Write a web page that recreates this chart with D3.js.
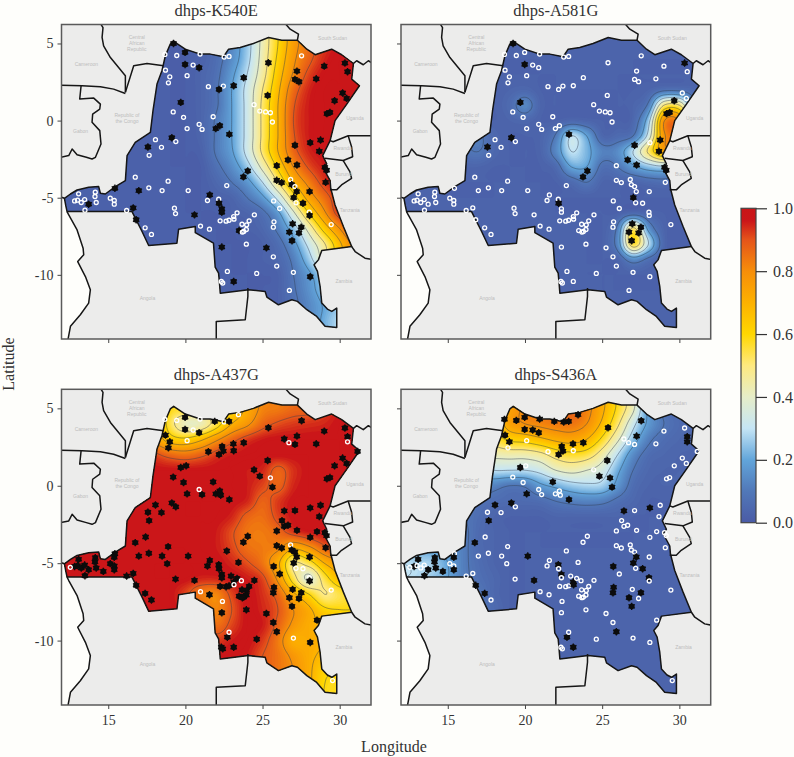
<!DOCTYPE html>
<html>
<head>
<meta charset="utf-8">
<script src="https://cdn.jsdelivr.net/npm/d3@7"></script>
<style>
  html, body { margin: 0; padding: 0; background: #fefefb; }
  svg { display: block; }
  text { font-family: "Liberation Serif", serif; fill: #333; }
</style>
</head>
<body>
<div id="chart"></div>
<script>
// sampling sites [lon, lat], ids are 1-based position in this list
const sites = [
  [19.23,5.00],[19.98,4.42],[18.67,4.29],[19.44,4.22],[20.95,4.31],[22.51,4.12],[22.83,4.16],[25.38,3.75],[27.53,4.20],[19.98,3.64],
  [20.50,3.60],[20.89,3.43],[18.71,3.27],[18.99,2.84],[18.90,2.45],[20.11,2.91],[21.49,2.20],[22.46,2.24],[23.13,2.26],[23.78,2.78],
  [22.18,2.02],[27.23,3.21],[27.10,2.67],[27.36,2.52],[28.48,2.71],[29.00,3.53],[30.34,3.73],[30.51,3.17],[25.33,1.63],[30.19,1.79],
  [30.45,1.44],[29.67,1.29],[19.70,1.18],[19.21,0.56],[19.88,0.21],[21.80,0.25],[24.45,1.03],[24.82,0.62],[25.20,0.56],[25.51,0.51],
  [25.64,-0.09],[29.17,0.45],[29.37,0.53],[20.89,-0.24],[21.08,-0.57],[20.11,-0.52],[21.97,-0.52],[22.23,-0.33],[22.85,-0.89],[19.12,-1.11],
  [18.06,-1.24],[19.38,-1.36],[17.57,-1.71],[18.45,-1.73],[17.65,-2.25],[27.10,-1.60],[28.09,-1.43],[28.76,-1.26],[28.68,-1.99],[26.65,-2.55],
  [27.23,-2.88],[25.92,-2.92],[29.04,-3.03],[29.15,-3.22],[24.04,-3.26],[23.76,-3.65],[16.75,-3.67],[18.88,-3.93],[25.92,-3.87],[26.24,-4.02],
  [26.82,-3.82],[26.89,-4.15],[27.10,-4.28],[29.09,-4.00],[28.05,-4.60],[27.21,-4.60],[27.02,-4.99],[22.68,-4.21],[17.63,-4.36],[15.43,-4.39],
  [16.98,-4.54],[18.49,-4.54],[20.18,-4.54],[14.16,-4.64],[14.14,-4.92],[13.08,-4.75],[12.82,-5.21],[13.01,-5.16],[13.25,-5.31],[13.47,-5.12],
  [13.73,-5.42],[14.22,-5.31],[15.13,-5.03],[15.39,-5.18],[15.39,-5.42],[21.58,-4.82],[21.43,-5.18],[22.16,-5.10],[22.18,-5.36],[25.72,-5.21],
  [26.11,-5.70],[27.17,-5.33],[27.62,-5.36],[28.03,-5.94],[28.05,-6.15],[16.62,-5.66],[16.19,-5.83],[13.49,-5.81],[19.29,-5.68],[19.36,-6.03],
  [20.59,-6.11],[22.36,-5.72],[22.36,-5.94],[22.25,-6.50],[22.64,-6.52],[22.83,-6.46],[23.13,-6.22],[23.15,-6.39],[23.35,-5.98],[24.47,-6.11],
  [24.13,-6.50],[23.67,-6.72],[23.97,-6.76],[23.95,-7.06],[23.48,-7.13],[23.78,-7.19],[23.69,-7.23],[25.74,-6.56],[25.70,-6.91],[26.95,-6.69],
  [27.51,-6.91],[26.74,-7.23],[27.36,-7.28],[26.91,-7.79],[29.45,-6.74],[16.81,-6.43],[20.98,-6.84],[21.56,-7.04],[17.39,-6.95],[17.80,-7.38],
  [23.95,-8.01],[22.36,-8.20],[25.25,-8.25],[25.70,-8.83],[25.92,-9.43],[22.72,-9.78],[24.62,-9.91],[27.00,-9.84],[28.09,-10.12],[22.33,-10.43],
  [22.42,-10.53],[23.13,-10.43],[26.74,-11.01],[29.54,-12.58],[31.16,2.22],[23.44,4.59],[22.83,-9.46],[12.54,-5.27],[30.51,2.84],[26.41,3.02],
  [26.71,2.78],[22.38,2.54],[23.11,2.71],[26.41,-1.62],[26.26,-2.25],[26.41,-2.62],[28.53,-2.96],[28.09,-3.33],[17.42,-3.31],[20.05,1.29],
  [22.29,-0.61],[21.90,4.16],[14.68,-5.53],[18.82,-5.03],[23.44,-4.95],[22.96,-5.83],[23.63,-6.13],[22.40,-7.47],[28.53,-8.68],[15.39,-4.62]
];

const firstSurveySites = 153;
const laterSurveyAbsent = [1, 24, 39, 109, 153];

const k540Filled = [1,2,8,10,12,19,20,21,22,23,24,25,26,27,28,29,30,31,32,33,42,43,47,48,49,50,53,56,57,58,59,60,61,62,63,64,65,66,69,70,72,74,75,76,77,80,81,91,96,99,103,105,106,111,112,113,125,130,131,132,133,134,136,142,143,149,152];
const a581Filled = [1,10,27,32,33,42,43,49,50,53,56,58,59,60,61,63,64,65,66,77,99,130,131,132,133,134];
const a437Open = [3,4,5,6,156,11,16,161,159,40,44,71,102,103,104,158,118,177,137,178,157,135,148,154];
const s436Filled = [2,3,4,5,172,6,7,156,10,11,12,13,14,162,163,20,21,18,8,29,22,9,33,46,36,49,38,40,41,51,50,55,67,83,28,159,164,57,76,77,86,87,91,92,85,84,173,95,180,108,136,139,100,103,104,128,129,131,132,134,98,112,111,117,118,145,146,152];

// surface values, percent, rows lat 6..-14, columns lon 12..32
const gridLons = d3.range(12, 33);
const gridLats = d3.range(6, -15, -1);

const k540Grid = [
  [2,2,2,2,2,2,2,2,2,3,6,14,26,43,60,76,86,93,97,98,98],
  [2,2,2,2,2,2,2,2,2,3,6,14,26,43,60,76,86,93,97,98,98],
  [2,2,2,2,2,2,2,2,2,3,7,15,27,44,62,78,88,95,98,98,98],
  [2,2,2,2,2,2,2,2,2,4,8,18,30,46,65,81,92,97,98,98,98],
  [2,2,2,2,2,2,2,2,2,4,9,20,33,50,68,86,95,98,98,98,98],
  [2,2,2,2,2,2,2,2,2,4,9,20,33,52,70,89,96,98,98,98,98],
  [2,2,2,2,2,2,2,2,2,4,11,20,33,52,70,90,96,98,98,98,98],
  [2,2,2,2,2,2,2,2,2,4,11,20,33,52,70,89,96,98,98,98,98],
  [2,2,2,2,2,2,2,2,2,3,11,19,33,52,70,87,95,97,98,98,98],
  [2,2,2,2,2,2,2,2,2,2,8,15,26,43,62,80,91,96,98,98,98],
  [2,2,2,2,2,2,2,2,2,2,5,10,17,30,50,70,83,93,97,98,98],
  [2,2,2,2,2,2,2,2,2,2,3,4,10,18,33,55,74,86,95,98,98],
  [2,2,2,2,2,2,2,2,2,2,2,3,4,8,18,38,60,78,94,98,98],
  [2,2,2,2,2,2,2,2,2,2,2,2,3,5,12,25,44,64,80,95,98],
  [2,2,2,2,2,2,2,2,2,2,2,2,2,3,7,17,33,49,68,84,92],
  [2,2,2,2,2,2,2,2,2,2,2,2,2,3,5,12,26,44,65,80,90],
  [2,2,2,2,2,2,2,2,2,2,2,2,2,2,3,10,18,30,50,65,75],
  [2,2,2,2,2,2,2,2,2,2,2,2,2,2,3,9,16,26,40,55,65],
  [2,2,2,2,2,2,2,2,2,2,2,2,2,2,3,8,14,21,28,40,50],
  [2,2,2,2,2,2,2,2,2,2,2,2,2,2,3,8,14,22,30,40,50],
  [2,2,2,2,2,2,2,2,2,2,2,2,2,2,3,8,14,22,30,40,50]
];

const a581Grid = [
  [3,3,3,3,3,3,3,3,3,3,3,3,3,3,3,3,3,3,3,3,3],
  [3,3,3,3,3,3,3,3,3,3,3,3,3,3,3,3,3,3,3,3,3],
  [3,3,3,3,3,3,3,3,3,3,3,3,3,3,3,3,3,3,3,3,3],
  [3,3,3,3,3,3,3,3,3,3,3,3,3,3,3,3,3,3,3,3,3],
  [3,3,3,3,3,3,3,4,5,3,3,3,3,3,3,3,4,8,8,5,3],
  [3,3,3,3,3,3,3,6,14,4,3,3,3,3,3,4,12,50,50,15,4],
  [3,3,3,3,4,4,3,4,5,3,3,5,4,3,3,5,26,79,80,40,5],
  [3,3,3,3,9,11,5,3,3,4,11,30,20,5,6,10,34,78,80,40,5],
  [3,3,3,3,8,10,5,3,3,4,14,30,23,13,15,30,52,74,70,30,5],
  [3,3,3,3,4,4,3,3,3,3,6,20,20,8,10,18,25,28,22,8,3],
  [3,3,3,3,3,3,3,3,3,3,3,6,10,4,4,4,6,7,5,3,3],
  [3,3,3,3,3,3,3,3,3,3,3,3,3,3,3,3,3,3,3,3,3],
  [3,3,3,3,3,3,3,3,3,3,3,3,3,3,3,6,4,3,3,3,3],
  [3,3,3,3,3,3,3,3,3,3,3,3,3,3,12,52,17,4,3,3,3],
  [3,3,3,3,3,3,3,3,3,3,3,3,3,3,14,56,30,5,3,3,3],
  [3,3,3,3,3,3,3,3,3,3,3,3,3,3,4,15,8,3,3,3,3],
  [3,3,3,3,3,3,3,3,3,3,3,3,3,3,3,3,3,3,3,3,3],
  [3,3,3,3,3,3,3,3,3,3,3,3,3,3,3,3,3,3,3,3,3],
  [3,3,3,3,3,3,3,3,3,3,3,3,3,3,3,3,3,3,3,3,3],
  [3,3,3,3,3,3,3,3,3,3,3,3,3,3,3,3,3,3,3,3,3],
  [3,3,3,3,3,3,3,3,3,3,3,3,3,3,3,3,3,3,3,3,3]
];

const a437Grid = [
  [97,97,97,97,95,90,80,60,60,60,60,65,72,82,84,87,90,93,96,97,97],
  [97,97,97,97,97,97,80,60,58,58,60,62,72,82,84,87,88,92,96,97,97],
  [97,97,97,97,97,97,78,55,42,43,55,70,78,87,91,93,94,95,97,97,97],
  [97,97,97,97,97,93,78,65,62,68,78,87,93,96,97,97,97,97,97,97,97],
  [97,97,97,97,97,97,92,87,85,88,93,96,97,97,97,97,97,97,97,97,97],
  [97,97,97,97,97,97,97,97,97,97,97,97,96,95,88,94,97,97,97,97,97],
  [97,97,97,97,97,97,97,97,97,97,97,97,96,92,88,95,97,97,97,97,97],
  [97,97,97,97,97,97,97,97,97,97,97,97,95,88,93,97,97,97,97,97,97],
  [97,97,97,97,97,97,97,97,97,97,97,95,88,86,92,97,97,97,97,97,97],
  [97,97,97,97,97,97,97,97,97,97,96,91,85,84,87,93,96,97,97,97,97],
  [97,97,97,97,97,97,97,97,97,97,96,92,86,84,82,72,78,88,93,95,95],
  [97,97,97,97,97,97,97,97,97,97,97,95,91,85,72,50,55,70,78,82,85],
  [97,97,97,97,97,97,97,97,97,95,95,97,96,92,78,55,38,55,68,70,72],
  [97,97,97,97,97,97,97,97,92,84,82,92,97,94,87,72,60,50,55,60,62],
  [97,97,97,97,97,97,97,97,95,90,82,90,97,95,90,80,72,62,60,60,60],
  [97,97,97,97,97,97,97,97,97,95,86,92,97,96,88,78,72,70,70,68,65],
  [97,97,97,97,97,97,97,97,97,97,93,96,97,93,84,72,72,70,68,65,65],
  [97,97,97,97,97,97,97,97,97,97,97,97,96,90,85,78,72,68,65,65,65],
  [97,97,97,97,97,97,97,97,97,97,97,97,95,90,85,80,72,62,60,60,60],
  [97,97,97,97,97,97,97,97,97,97,97,97,95,90,85,80,72,60,58,58,58],
  [97,97,97,97,97,97,97,97,97,97,97,97,95,90,85,80,72,60,58,58,58]
];

const s436Grid = [
  [60,60,60,62,65,68,70,78,82,83,85,88,83,72,58,42,18,8,5,4,4],
  [60,60,60,62,65,68,70,75,82,83,85,88,83,72,58,42,18,8,5,4,4],
  [55,55,55,56,58,60,62,75,80,82,84,85,80,68,52,33,18,10,6,5,4],
  [50,50,50,50,50,52,55,62,64,68,72,74,70,58,42,25,12,7,5,4,4],
  [40,40,40,40,42,45,43,44,44,47,54,57,55,45,30,15,7,5,4,4,4],
  [22,22,22,22,22,25,30,30,30,33,40,43,40,35,22,10,5,4,4,4,4],
  [8,8,8,8,10,15,13,10,11,18,22,26,28,27,17,7,4,4,4,4,4],
  [6,6,6,8,10,9,7,6,6,7,10,12,13,12,8,5,3,3,3,3,3],
  [6,6,6,10,10,7,4,3,3,3,4,4,4,4,4,3,3,3,3,3,3],
  [10,10,12,15,12,6,4,3,3,3,3,3,3,3,3,3,3,3,3,3,3],
  [20,20,18,17,12,6,4,3,3,3,3,3,3,3,3,3,3,3,3,3,3],
  [30,28,27,20,12,7,4,3,3,3,3,3,3,3,3,3,3,3,3,3,3],
  [30,28,25,20,12,8,5,3,3,3,3,3,3,3,3,3,3,3,3,3,3],
  [20,18,15,14,10,10,5,3,3,3,3,3,3,3,3,3,3,3,3,3,3],
  [10,10,10,10,10,10,6,3,3,3,3,3,3,3,3,3,3,3,3,3,3],
  [3,3,3,3,3,3,3,3,3,3,3,3,3,3,3,3,3,3,3,3,3],
  [3,3,3,3,3,3,3,3,3,3,3,3,3,3,3,3,3,3,3,3,3],
  [3,3,3,3,3,3,3,3,3,3,3,3,3,3,3,3,3,3,3,3,3],
  [3,3,3,3,3,3,3,3,3,3,3,3,3,3,3,3,3,3,3,3,3],
  [3,3,3,3,3,3,3,3,3,3,3,3,3,3,3,3,3,3,3,3,3],
  [3,3,3,3,3,3,3,3,3,3,3,3,3,3,3,3,3,3,3,3,3]
];

// DRC outline and neighbouring borders [lon, lat]
const drcOutline = [
  [12.33,-5.90],[12.25,-5.53],[12.16,-5.04],[12.55,-4.76],[12.98,-4.50],[13.73,-4.32],[14.38,-4.28],[14.49,-4.71],[14.81,-4.76],[15.46,-4.28],
  [16.11,-3.89],[16.22,-2.27],[16.75,-1.41],[17.73,-0.76],[17.90,0.64],[18.16,2.37],[18.48,3.23],[18.70,4.20],[19.02,4.96],[19.24,5.13],
  [19.99,4.63],[20.96,4.31],[21.61,4.31],[22.47,4.14],[22.80,4.63],[23.55,4.74],[24.41,5.00],[25.39,5.39],[26.25,5.21],[27.26,5.21],
  [27.87,4.63],[28.41,4.27],[29.48,4.63],[30.13,4.27],[30.89,3.70],[30.78,2.69],[31.28,2.26],[30.46,1.07],[29.70,0.00],[29.38,-1.30],
  [28.90,-2.27],[29.16,-2.81],[28.95,-3.10],[29.38,-3.89],[29.42,-4.39],[29.70,-5.47],[30.24,-6.87],[30.78,-8.17],[28.84,-8.42],[28.62,-9.03],
  [28.34,-9.35],[28.56,-9.78],[28.73,-10.75],[28.84,-11.83],[29.20,-12.22],[29.49,-12.37],[29.81,-12.16],[29.81,-13.41],[29.05,-13.34],[28.51,-12.70],
  [27.87,-12.26],[27.26,-11.72],[26.90,-11.62],[26.03,-11.94],[25.28,-11.44],[25.17,-11.08],[24.09,-10.97],[22.26,-11.19],[22.21,-10.54],[22.15,-9.89],
  [21.93,-9.50],[21.82,-7.95],[20.64,-7.26],[20.64,-6.87],[19.56,-7.04],[19.45,-7.95],[17.62,-8.10],[17.19,-7.19],[16.54,-5.90]
];

const seaOutline = [
  [11.9,-4.95],[12.16,-5.04],[12.25,-5.53],[12.33,-5.90],[12.44,-6.12],[12.98,-7.09],[13.37,-8.27],[13.41,-8.70],[13.02,-9.14],[13.52,-10.11],
  [13.84,-10.97],[13.73,-11.83],[13.19,-12.59],[12.55,-13.34],[12.37,-14.3],[11.9,-14.3]
];

const borders = [
  [[11.9,-4.95],[12.16,-5.04]],
  [[12.33,-5.90],[12.44,-6.12],[12.98,-7.09],[13.37,-8.27],[13.41,-8.70],[13.02,-9.14],[13.52,-10.11],[13.84,-10.97],[13.73,-11.83],[13.19,-12.59],[12.55,-13.34],[12.37,-14.3]],
  [[24.05,-10.86],[24.05,-11.40],[23.88,-12.91],[22.00,-13.02],[22.00,-14.3]],
  [[30.78,-8.17],[31.00,-8.49],[31.64,-8.92],[32.2,-9.03]],
  [[29.38,-1.30],[29.58,-1.37],[30.55,-0.98],[32.2,-0.98]],
  [[30.55,-0.98],[30.77,-1.69],[30.84,-2.34],[30.23,-2.59],[29.05,-2.44]],
  [[30.23,-2.59],[30.66,-3.31],[30.77,-3.74],[30.12,-4.17],[29.80,-4.49],[29.37,-4.49]],
  [[30.89,3.70],[31.10,3.88],[31.53,3.62],[31.86,3.88],[32.2,3.66]],
  [[27.26,5.21],[27.33,5.60],[26.79,5.93],[26.46,6.3]],
  [[18.59,3.55],[17.51,3.70],[16.65,3.55],[16.11,1.83]],
  [[16.11,1.83],[16.11,2.91],[15.14,4.09],[14.70,4.85],[14.60,5.39],[14.66,6.03],[14.49,6.3]],
  [[11.9,2.30],[13.30,2.26],[14.49,2.19],[15.35,2.04],[16.11,1.76]],
  [[13.24,2.26],[13.15,1.40],[14.06,1.46],[14.49,1.07],[14.45,0.75],[13.99,0.42],[13.95,-0.11],[14.45,-0.65],[14.53,-1.52],[14.17,-2.38],[13.95,-2.49],[13.58,-2.38],[12.98,-2.21],[12.66,-1.84],[12.44,-2.27],[11.9,-2.38]]
];

const countryNames = ["Central","African","Republic","South Sudan","Cameroon","Republic of","the Congo","Gabon","Uganda","Rwanda","Burundi","Tanzania","Zambia","Angola"];
const countryLons = [16.85,16.85,16.85,29.54,13.58,16.21,16.21,13.21,30.99,30.19,30.27,30.66,30.27,17.54];
const countryLats = [5.37,5.00,4.59,5.28,3.60,0.30,-0.09,-0.70,0.10,-1.80,-3.48,-5.83,-10.43,-11.53];

const lonTicks = [15, 20, 25, 30];
const latTicks = [5, 0, -5, -10];
const colorTicks = [0, 0.2, 0.4, 0.6, 0.8, 1];
const contourLevels = [0.1, 0.2, 0.3, 0.4, 0.5, 0.6, 0.7, 0.8, 0.9];
const colorStops = [0, 0.1, 0.2, 0.3, 0.4, 0.5, 0.6, 0.7, 0.8, 0.9, 0.96, 1];
const colorValues = ["#4a5ba6","#5178b8","#62a5da","#c5e5f5","#e6edc8","#fee97f","#ffd700","#fdb100","#f68e0a","#e5541a","#cb1619","#c91518"];

const width = 794, height = 757;
const color = d3.scaleLinear().domain(colorStops).range(colorValues).clamp(true);

const svg = d3.select("#chart").append("svg")
  .attr("width", width)
  .attr("height", height);

const laterIds = d3.range(1, sites.length + 1).filter(id => !laterSurveyAbsent.includes(id));
const earlyIds = d3.range(1, firstSurveySites + 1);

const panels = [
  { title: "dhps-K540E", grid: k540Grid, x: [61.5, 371], y: [24.5, 339], ids: earlyIds, filled: id => k540Filled.includes(id), latLabels: true, lonLabels: false },
  { title: "dhps-A581G", grid: a581Grid, x: [401, 710.7], y: [24.5, 339], ids: earlyIds, filled: id => a581Filled.includes(id), latLabels: false, lonLabels: false },
  { title: "dhps-A437G", grid: a437Grid, x: [61.5, 371], y: [389.3, 705], ids: laterIds, filled: id => !a437Open.includes(id), latLabels: true, lonLabels: true },
  { title: "dhps-S436A", grid: s436Grid, x: [401, 710.7], y: [389.3, 705], ids: laterIds, filled: id => s436Filled.includes(id), latLabels: false, lonLabels: true }
];

// Catmull-Rom, only to draw the read grid smoothly
function cubic(a, b, c, d, t) {
  return 0.5 * (2 * b + (c - a) * t + (2 * a - 5 * b + 4 * c - d) * t * t + (3 * b - a - 3 * c + d) * t * t * t);
}

const sub = 8;
function upsample(grid) {
  const nr = grid.length, nc = grid[0].length;
  const w = (nc - 1) * sub + 1, h = (nr - 1) * sub + 1;
  const out = new Float64Array(w * h);
  const at = (r, c) => grid[Math.max(0, Math.min(nr - 1, r))][Math.max(0, Math.min(nc - 1, c))] / 100;
  for (let j = 0; j < h; j++) {
    const r = Math.floor(j / sub), tr = j / sub - r;
    for (let i = 0; i < w; i++) {
      const c = Math.floor(i / sub), tc = i / sub - c;
      const col = [-1, 0, 1, 2].map(k => cubic(at(r + k, c - 1), at(r + k, c), at(r + k, c + 1), at(r + k, c + 2), tc));
      out[j * w + i] = Math.max(0, Math.min(1, cubic(col[0], col[1], col[2], col[3], tr)));
    }
  }
  return { values: out, w, h };
}

panels.forEach((p, idx) => {
  const xScale = d3.scaleLinear().domain([11.97, 32.03]).range(p.x);
  const yScale = d3.scaleLinear().domain([6.23, -14.16]).range(p.y);
  const line = d3.line().x(d => xScale(d[0])).y(d => yScale(d[1]));
  const g = svg.append("g");

  const defs = g.append("defs");
  defs.append("clipPath").attr("id", "frame" + idx).append("rect")
    .attr("x", p.x[0]).attr("y", p.y[0])
    .attr("width", p.x[1] - p.x[0]).attr("height", p.y[1] - p.y[0]);
  defs.append("clipPath").attr("id", "drc" + idx).append("path")
    .attr("d", line(drcOutline) + "Z");

  const map = g.append("g").attr("clip-path", `url(#frame${idx})`);
  map.append("rect")
    .attr("x", p.x[0]).attr("y", p.y[0])
    .attr("width", p.x[1] - p.x[0]).attr("height", p.y[1] - p.y[0])
    .attr("fill", "#ececeb");
  map.append("path").attr("d", line(seaOutline) + "Z").attr("fill", "#fefefb");

  // surface
  const field = upsample(p.grid);
  const toPx = d3.geoTransform({
    point(x, y) {
      this.stream.point(xScale(gridLons[0] + (x - 0.5) / sub), yScale(gridLats[0] - (y - 0.5) / sub));
    }
  });
  const geo = d3.geoPath(toPx);
  const contours = d3.contours().size([field.w, field.h]);
  const surface = map.append("g").attr("clip-path", `url(#drc${idx})`);
  surface.append("rect")
    .attr("x", p.x[0]).attr("y", p.y[0])
    .attr("width", p.x[1] - p.x[0]).attr("height", p.y[1] - p.y[0])
    .attr("fill", color(0));
  surface.selectAll("path.band")
    .data(contours.thresholds(d3.range(0.01, 1, 0.01))(field.values))
    .enter().append("path")
    .attr("class", "band")
    .attr("d", geo)
    .attr("fill", d => color(d.value));
  surface.selectAll("path.level")
    .data(contours.thresholds(contourLevels)(field.values))
    .enter().append("path")
    .attr("class", "level")
    .attr("d", geo)
    .attr("fill", "none")
    .attr("stroke", "#333d50")
    .attr("stroke-opacity", 0.5)
    .attr("stroke-width", 0.9);

  // borders
  map.selectAll("path.border")
    .data(borders)
    .enter().append("path")
    .attr("class", "border")
    .attr("d", line)
    .attr("fill", "none")
    .attr("stroke", "#161616")
    .attr("stroke-width", 1.5)
    .attr("stroke-linejoin", "round");
  map.append("path")
    .attr("d", line(drcOutline) + "Z")
    .attr("fill", "none")
    .attr("stroke", "#161616")
    .attr("stroke-width", 1.5)
    .attr("stroke-linejoin", "round");

  map.selectAll("text.country")
    .data(countryNames)
    .enter().append("text")
    .attr("class", "country")
    .attr("x", (d, i) => xScale(countryLons[i]))
    .attr("y", (d, i) => yScale(countryLats[i]))
    .attr("text-anchor", "middle")
    .attr("dominant-baseline", "middle")
    .style("font-family", "'Liberation Sans', sans-serif")
    .style("font-size", "5px")
    .style("fill", "#bdbdbd")
    .text(d => d);

  // sampling sites
  const marks = g.append("g");
  const star = d3.symbol(d3.symbolAsterisk, 38);
  p.ids.forEach(id => {
    const s = sites[id - 1];
    const m = marks.append("g").attr("transform", `translate(${xScale(s[0])},${yScale(s[1])})`);
    if (p.filled(id)) {
      m.append("circle").attr("r", 2.9).attr("fill", "#0c0c0c");
      m.append("path").attr("d", star()).attr("fill", "none").attr("stroke", "#0c0c0c").attr("stroke-width", 1.3);
    } else {
      m.append("circle").attr("r", 2).attr("fill", "none").attr("stroke", "#fff").attr("stroke-width", 1.3);
    }
  });

  // frame and axes
  g.append("rect")
    .attr("x", p.x[0]).attr("y", p.y[0])
    .attr("width", p.x[1] - p.x[0]).attr("height", p.y[1] - p.y[0])
    .attr("fill", "none")
    .attr("stroke", "#5a5a5a")
    .attr("stroke-width", 1.5);

  const xAxis = d3.axisBottom(xScale).tickValues(lonTicks).tickSize(4).tickPadding(6)
    .tickFormat(p.lonLabels ? d3.format("d") : "");
  const yAxis = d3.axisLeft(yScale).tickValues(latTicks).tickSize(4).tickPadding(4)
    .tickFormat(p.latLabels ? (d => String(d)) : "");
  const ax = g.append("g").attr("transform", `translate(0,${p.y[1]})`).call(xAxis);
  const ay = g.append("g").attr("transform", `translate(${p.x[0]},0)`).call(yAxis);
  [ax, ay].forEach(a => {
    a.select(".domain").remove();
    a.selectAll("line").attr("stroke", "#444");
    a.selectAll("text").style("font-family", "'Liberation Serif', serif").style("font-size", "14px").style("fill", "#333");
  });

  g.append("text")
    .attr("x", (p.x[0] + p.x[1]) / 2)
    .attr("y", p.y[0] - 9)
    .attr("text-anchor", "middle")
    .style("font-size", "16.5px")
    .text(p.title);
});

// Axis titles
svg.append("text")
  .attr("x", 394)
  .attr("y", 752)
  .attr("text-anchor", "middle")
  .style("font-size", "16px")
  .text("Longitude");

svg.append("text")
  .attr("transform", "rotate(-90)")
  .attr("x", -364)
  .attr("y", 14)
  .attr("text-anchor", "middle")
  .style("font-size", "16px")
  .text("Latitude");

// Colour bar
const barX = 741, barW = 15;
const barScale = d3.scaleLinear().domain([0, 1]).range([522.7, 208.3]);
const grad = svg.append("defs").append("linearGradient")
  .attr("id", "bar").attr("x1", 0).attr("x2", 0).attr("y1", 1).attr("y2", 0);
grad.selectAll("stop")
  .data(colorStops)
  .enter().append("stop")
  .attr("offset", d => d)
  .attr("stop-color", d => color(d));
svg.append("rect")
  .attr("x", barX).attr("y", barScale(1))
  .attr("width", barW).attr("height", barScale(0) - barScale(1))
  .attr("fill", "url(#bar)")
  .attr("stroke", "#444")
  .attr("stroke-width", 1.2);
const barAxis = svg.append("g")
  .attr("transform", `translate(${barX + barW},0)`)
  .call(d3.axisRight(barScale).tickValues(colorTicks).tickSize(11).tickPadding(6).tickFormat(d3.format(".1f")));
barAxis.select(".domain").remove();
barAxis.selectAll("line").attr("stroke", "#333").attr("stroke-width", 1.2);
barAxis.selectAll("text").style("font-family", "'Liberation Serif', serif").style("font-size", "16px").style("fill", "#333");
</script>
</body>
</html>
